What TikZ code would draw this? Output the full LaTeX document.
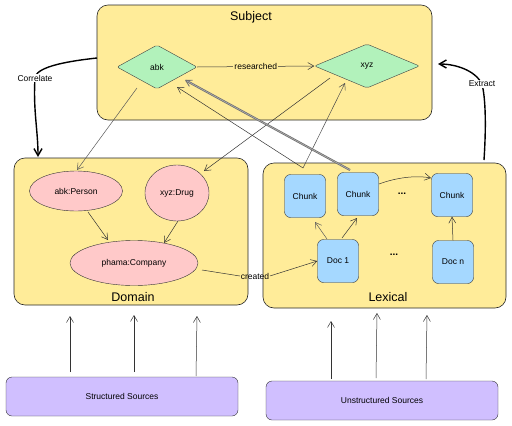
\documentclass[tikz,border=0pt]{standalone}
\usepackage{fontspec}
\setmainfont{Liberation Sans}
\usetikzlibrary{shapes.geometric,arrows.meta}
\definecolor{yel}{HTML}{FFEC99}
\definecolor{grn}{HTML}{B2F2BB}
\definecolor{pnk}{HTML}{FFC9C9}
\definecolor{blu}{HTML}{A5D8FF}
\definecolor{lav}{HTML}{D0BFFF}
\begin{document}
\begin{tikzpicture}[x=1pt,y=-1pt,
  txt/.style={font=\fontsize{8.5}{10}\selectfont},
  group/.style={draw=black!85, fill=yel, rounded corners=11pt, line width=0.6pt, inner sep=0},
  dia/.style={diamond, draw=black!75, fill=grn, inner sep=0, rounded corners=2pt, txt},
  ell/.style={ellipse, draw=black!80, fill=pnk, inner sep=0, txt},
  chunkbox/.style={draw=black!80, fill=blu, rounded corners=6pt, minimum width=41pt, minimum height=43pt, inner sep=0, txt},
  src/.style={draw=black!80, fill=lav, rounded corners=6pt, minimum width=232pt, minimum height=39pt, inner sep=0, txt},
  title/.style={font=\fontsize{12.5}{14}\selectfont},
  lbl/.style={txt, fill=white, inner sep=1pt},
  elbl/.style={txt, inner sep=1pt},
  arr/.style={-{Straight Barb[length=6pt,width=7pt]}, draw=black!80, line width=0.5pt},
  bigarr/.style={-{Straight Barb[length=7pt,width=8pt]}, draw=black, line width=1.4pt}
]
\useasboundingbox (0,0) rectangle (512,426);

% groups
\node[group, minimum width=335pt, minimum height=115pt] (subj) at (264.5,62.5) {};
\node[group, minimum width=234pt, minimum height=147pt] (dom) at (131,231.5) {};
\node[group, minimum width=243pt, minimum height=145pt] (lex) at (384.5,235.5) {};
\node[title] (subjT) at (251,17) {Subject};
\node[title] (domT) at (133,297) {Domain};
\node[title] (lexT) at (388,297) {Lexical};

% subject nodes
\node[dia, minimum width=80pt, minimum height=44pt] (abk) at (157,67) {abk};
\node[dia, minimum width=105pt, minimum height=44pt] (xyz) at (367,66) {xyz};

% domain nodes
\node[ell, minimum width=93pt, minimum height=40pt] (person) at (76,191) {abk:Person};
\node[ell, minimum width=64pt, minimum height=56pt] (drug) at (177,193) {xyz:Drug};
\node[ell, minimum width=128pt, minimum height=45pt] (comp) at (134,263) {phama:Company};

% lexical nodes
\node[chunkbox] (c1) at (305,196) {Chunk};
\node[chunkbox] (c2) at (358,194) {Chunk};
\node[chunkbox] (c3) at (452,195) {Chunk};
\node[chunkbox] (d1) at (338,261) {Doc 1};
\node[chunkbox] (dn) at (453,262) {Doc n};
\node[font=\normalsize] (dots1) at (402,194) {\textbf{...}};
\node[font=\normalsize] (dots2) at (394,255) {\textbf{...}};

% sources
\node[src] (ss) at (122,396.5) {Structured Sources};
\node[src] (us) at (382,400.5) {Unstructured Sources};

% source arrows
\coordinate (sa1) at (70,372); \coordinate (sb1) at (70,316);
\coordinate (sa2) at (134,372); \coordinate (sb2) at (134,315);
\coordinate (sa3) at (196,376); \coordinate (sb3) at (197,316);
\coordinate (ua1) at (331,379); \coordinate (ub1) at (331,321);
\coordinate (ua2) at (376,378); \coordinate (ub2) at (377,313);
\coordinate (ua3) at (426,379); \coordinate (ub3) at (427,315);
\foreach \i in {1,2,3} {
  \draw[arr] (sa\i) -- (sb\i);
  \draw[arr] (ua\i) -- (ub\i);
}

% subject edges
\draw[arr] (abk.east) -- node[elbl, fill=yel] {researched} (xyz.west);
\coordinate (abkB) at (137,88);
\coordinate (personT) at (77,170);
\draw[arr, draw=black!65] (abkB) -- (personT);
\coordinate (xyzB) at (330,78);
\coordinate (drugT) at (204,171);
\draw[arr] (xyzB) -- (drugT);

% domain edges
\draw[arr] (88,212) -- (108,240);
\draw[arr] (178,221) -- (164,243);
\coordinate (compE) at (202,270);
\draw[arr] (compE) -- (240,276) node[elbl, anchor=west, inner sep=0.5pt] (crl) {created} (crl.east) -- (d1.west);

% lexical edges
\draw[arr, draw=black!65] (327,239) -- (315,222);
\draw[arr] (342,238) -- (357,218);
\draw[arr] (dn.north) -- (c3.south);
\coordinate (c2e) at (379,184);
\coordinate (c3w) at (431,178);
\draw[arr] (c2e) .. controls (395,178) and (415,175) .. (c3w);
\coordinate (v) at (303,168);
\draw[arr] (v) -- (177,87);
\draw[arr, draw=black!70] (v) -- (345,83);
\draw[arr, draw=black!55, line width=0.9pt, double=white!80!black, double distance=0.3pt] (350,170) -- (185,80);

% correlate & extract
\draw[bigarr] (97,58) .. controls (60,62) and (36,68) .. (35,78)
  node[lbl, pos=1] {Correlate}
  .. controls (33,110) and (38,130) .. (38,157);
\draw[bigarr] (484,160) .. controls (486,130) and (486,100) .. (482,84)
  node[lbl, pos=1] {Extract}
  .. controls (475,70) and (455,64) .. (438,64);
\end{tikzpicture}
\end{document}
